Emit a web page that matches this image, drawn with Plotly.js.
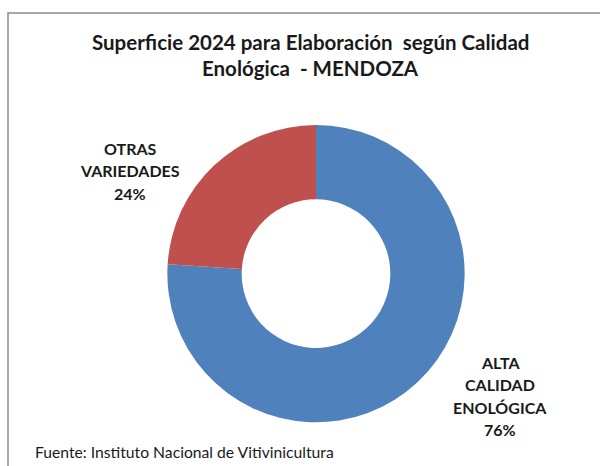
<!DOCTYPE html>
<html>
<head>
<meta charset="utf-8">
<script src="https://cdn.plot.ly/plotly-3.0.1.min.js"></script>
<style>html,body{margin:0;padding:0;background:#fff;}#chart{width:600px;height:466px;}</style>
</head>
<body>
<div id="chart"></div>
<script>
const categories = ['ALTA CALIDAD ENOLÓGICA', 'OTRAS VARIEDADES'];
const labelLines = [['ALTA', 'CALIDAD', 'ENOLÓGICA'], ['OTRAS', 'VARIEDADES']];
const values = [76, 24];
const colors = ['#4F81BD', '#C0504D'];
const titleLines = ['Superficie 2024 para Elaboración  según Calidad', 'Enológica  - MENDOZA'];
const sourceText = 'Fuente: Instituto Nacional de Vitivinicultura';

const W = 600, H = 466;
const px = x => x / W;
const py = y => 1 - y / H;

const total = values.reduce((a, b) => a + b, 0);
const labelAnchors = [
  {x: 500, ys: [362, 384, 407, 429]},
  {x: 130, ys: [148, 170, 193]}
];
const annotations = [];
labelLines.forEach((lines, i) => {
  const all = lines.concat([Math.round(values[i] / total * 100) + '%']);
  all.forEach((t, j) => {
    annotations.push({
      text: t, xref: 'paper', yref: 'paper',
      x: px(labelAnchors[i].x), y: py(labelAnchors[i].ys[j]),
      xanchor: 'center', yanchor: 'middle', showarrow: false,
      font: {family: 'Lato, sans-serif', size: 16, color: '#1a1a1a', weight: 'bold'}
    });
  });
});
const titleYs = [42, 68];
titleLines.forEach((t, j) => {
  annotations.push({
    text: t, xref: 'paper', yref: 'paper',
    x: px(310), y: py(titleYs[j]), xanchor: 'center', yanchor: 'middle', showarrow: false,
    font: {family: 'Lato, sans-serif', size: 20.5, color: '#1a1a1a', weight: 'bold'}
  });
});
annotations.push({
  text: sourceText, xref: 'paper', yref: 'paper',
  x: px(33), y: py(452), xanchor: 'left', yanchor: 'middle', showarrow: false,
  font: {family: 'Lato, sans-serif', size: 15.7, color: '#1a1a1a'}
});

const data = [{
  type: 'pie',
  labels: categories,
  values: values,
  hole: 0.5,
  sort: false,
  direction: 'clockwise',
  rotation: 0,
  textinfo: 'none',
  marker: {colors: colors, line: {width: 0}},
  domain: {x: [px(167), px(465)], y: [py(422.3), py(125)]},
  showlegend: false
}];

const layout = {
  width: W, height: H,
  margin: {l: 0, r: 0, t: 0, b: 0},
  paper_bgcolor: '#ffffff',
  annotations: annotations,
  shapes: [{
    type: 'rect', xref: 'paper', yref: 'paper',
    x0: px(8), x1: px(620), y0: py(490), y1: py(13),
    line: {color: '#8c8c8c', width: 1.5}
  }]
};

Plotly.newPlot('chart', data, layout, {displayModeBar: false, staticPlot: true});
</script>
</body>
</html>
